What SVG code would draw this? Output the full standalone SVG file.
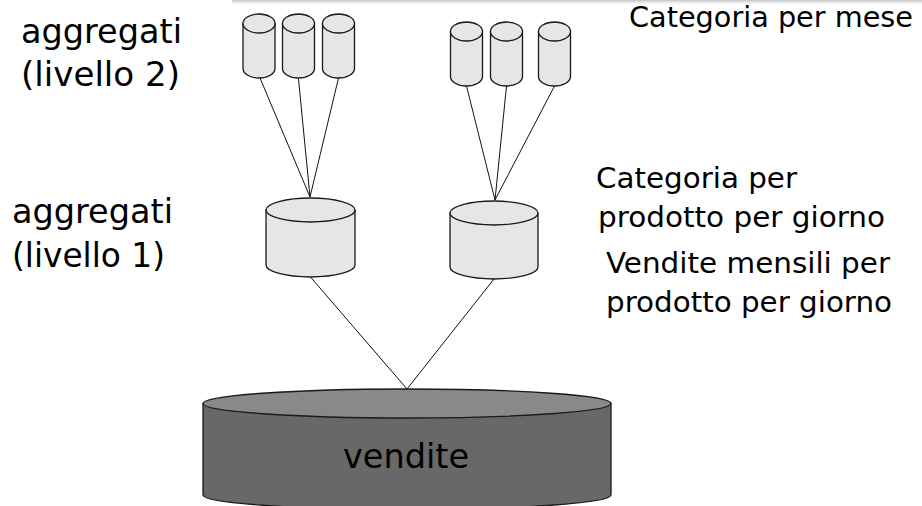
<svg xmlns="http://www.w3.org/2000/svg" width="922" height="506" viewBox="0 0 922 506">
<defs>
<linearGradient id="smudge" x1="0" y1="0" x2="0" y2="1">
<stop offset="0" stop-color="#a8a8a8" stop-opacity="0.7"/>
<stop offset="1" stop-color="#ffffff" stop-opacity="0"/>
</linearGradient>
</defs>
<style>
.cyl{fill:#e6e6e6;stroke:#1a1a1a;stroke-width:1.3}
.big{fill:#686868;stroke:#1a1a1a;stroke-width:1.3}
.bigtop{fill:#898989;stroke:#1a1a1a;stroke-width:1.3}
.conn{stroke:#111;stroke-width:1;fill:none}
.lbl{font-family:"DejaVu Sans","Liberation Sans",sans-serif;fill:#000}
.l33{font-size:33px}
.l29{font-size:29px}
</style>
<rect x="232" y="0" width="690" height="6" fill="url(#smudge)"/>
<g id="connectors">
<line class="conn" x1="260" y1="78" x2="310" y2="197"/>
<line class="conn" x1="298.5" y1="79" x2="310" y2="197"/>
<line class="conn" x1="338.5" y1="78" x2="310" y2="197"/>
<line class="conn" x1="466.5" y1="86" x2="495" y2="200"/>
<line class="conn" x1="506.5" y1="86" x2="495" y2="200"/>
<line class="conn" x1="554.5" y1="86" x2="495" y2="200"/>
<line class="conn" x1="310.5" y1="277" x2="407" y2="389"/>
<line class="conn" x1="494" y1="279" x2="407" y2="389"/>
</g>
<g id="agg2-a">
<path class="cyl" d="M243,23.5 V68.5 A16,9.5 0 0 0 275,68.5 V23.5 Z"/>
<ellipse class="cyl" cx="259" cy="23.5" rx="16" ry="9.5"/>
</g>
<g id="agg2-b">
<path class="cyl" d="M282.5,23.5 V68.5 A16,9.5 0 0 0 314.5,68.5 V23.5 Z"/>
<ellipse class="cyl" cx="298.5" cy="23.5" rx="16" ry="9.5"/>
</g>
<g id="agg2-c">
<path class="cyl" d="M322.5,23.5 V68.5 A16,9.5 0 0 0 354.5,68.5 V23.5 Z"/>
<ellipse class="cyl" cx="338.5" cy="23.5" rx="16" ry="9.5"/>
</g>
<g id="agg2-d">
<path class="cyl" d="M450.5,31.5 V76.5 A16,9.5 0 0 0 482.5,76.5 V31.5 Z"/>
<ellipse class="cyl" cx="466.5" cy="31.5" rx="16" ry="9.5"/>
</g>
<g id="agg2-e">
<path class="cyl" d="M490.5,31.5 V76.5 A16,9.5 0 0 0 522.5,76.5 V31.5 Z"/>
<ellipse class="cyl" cx="506.5" cy="31.5" rx="16" ry="9.5"/>
</g>
<g id="agg2-f">
<path class="cyl" d="M538.5,31.5 V76.5 A16,9.5 0 0 0 570.5,76.5 V31.5 Z"/>
<ellipse class="cyl" cx="554.5" cy="31.5" rx="16" ry="9.5"/>
</g>
<g id="agg1-a">
<path class="cyl" d="M266,210 V265 A44.5,12 0 0 0 355,265 V210 Z"/>
<ellipse class="cyl" cx="310.5" cy="210" rx="44.5" ry="12"/>
</g>
<g id="agg1-b">
<path class="cyl" d="M450,213 V267 A44,12 0 0 0 538,267 V213 Z"/>
<ellipse class="cyl" cx="494" cy="213" rx="44" ry="12"/>
</g>
<g id="vendite">
<path class="big" d="M203,403.5 V495 A204,14.5 0 0 0 611,495 V403.5 Z"/>
<ellipse class="bigtop" cx="407" cy="403.5" rx="204" ry="14.5"/>
<text class="lbl l33" x="343" y="468" textLength="126" lengthAdjust="spacingAndGlyphs">vendite</text>
</g>
<g id="labels">
<text class="lbl l33" x="21" y="43" textLength="161" lengthAdjust="spacingAndGlyphs">aggregati</text>
<text class="lbl l33" x="21" y="86" textLength="159" lengthAdjust="spacingAndGlyphs">(livello 2)</text>
<text class="lbl l33" x="12" y="223" textLength="161" lengthAdjust="spacingAndGlyphs">aggregati</text>
<text class="lbl l33" x="12" y="267" textLength="153" lengthAdjust="spacingAndGlyphs">(livello 1)</text>
<text class="lbl l29" x="629" y="27" textLength="284" lengthAdjust="spacingAndGlyphs">Categoria per mese</text>
<text class="lbl l29" x="596" y="188" textLength="201" lengthAdjust="spacingAndGlyphs">Categoria per</text>
<text class="lbl l29" x="598" y="227" textLength="287" lengthAdjust="spacingAndGlyphs">prodotto per giorno</text>
<text class="lbl l29" x="606" y="273" textLength="284" lengthAdjust="spacingAndGlyphs">Vendite mensili per</text>
<text class="lbl l29" x="606" y="312" textLength="286" lengthAdjust="spacingAndGlyphs">prodotto per giorno</text>
</g>
</svg>
